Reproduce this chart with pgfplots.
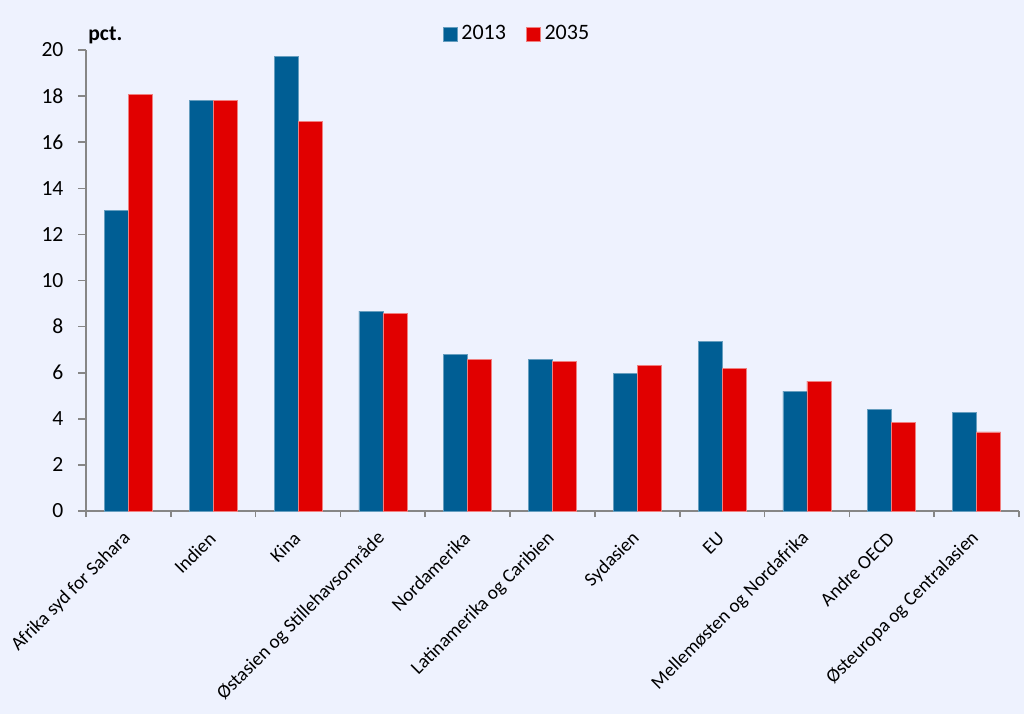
\documentclass[border=0pt]{standalone}
\usepackage{pgfplots}
\pgfplotsset{compat=1.18}
\usepackage{fontspec}
\setmainfont{Carlito}
\definecolor{bg}{RGB}{238,242,254}
\definecolor{cblue}{RGB}{0,94,148}
\definecolor{cred}{RGB}{225,0,0}
\definecolor{axgray}{RGB}{134,134,134}
\begin{document}
\fontsize{10.8}{13}\selectfont
\begin{tikzpicture}
\fill[bg] (0,0) rectangle (512pt,357pt);
\begin{axis}[
 at={(43pt,101.5pt)}, anchor=south west,
 scale only axis, width=466.5pt, height=230.5pt,
 clip=false,
 ybar=0pt, bar width=12pt,
 xmin=-0.5, xmax=10.5, ymin=0, ymax=20, enlargelimits=false,
 axis x line=bottom, axis y line=left,
 axis line style={-, draw=axgray, line width=0.8pt},
 tick align=outside,
 ytick={0,2,...,20},
 xtick={0,...,10},
 minor xtick={-0.5,0.5,...,10.5},
 major tick length=4pt, minor tick length=3pt,
 major x tick style={draw=none},
 minor x tick style={draw=axgray, line width=0.8pt},
 ytick style={draw=axgray, line width=0.8pt},
 /pgf/number format/assume math mode=true,
 yticklabel style={font=\fontsize{10.8}{13}\selectfont, xshift=-3.5pt},
 xticklabels={Afrika syd for Sahara, Indien, Kina, Østasien og Stillehavsområde, Nordamerika, Latinamerika og Caribien, Sydasien, EU, Mellemøsten og Nordafrika, Andre OECD, Østeuropa og Centralasien},
 xticklabel style={font=\fontsize{9.6}{11}\selectfont, rotate=45, anchor=east, inner sep=0pt, xshift=-6pt, yshift=-5.5pt},
 legend style={at={(0.463,1.035)}, anchor=center, draw=none, fill=none, font=\fontsize{11}{13}\selectfont},
 legend columns=2,
 /tikz/every even column/.append style={column sep=8pt},
 legend image code/.code={\fill[#1] (0pt,-3.5pt) rectangle (7pt,3.5pt);},
]
\addplot[fill=cblue, draw=cblue!60!white, line width=0.3pt] coordinates {(0,13.03) (1,17.83) (2,19.71) (3,8.67) (4,6.79) (5,6.59) (6,5.97) (7,7.37) (8,5.20) (9,4.42) (10,4.29)};
\addplot[fill=cred, draw=cred!50!white, line width=0.3pt] coordinates {(0,18.07) (1,17.80) (2,16.89) (3,8.56) (4,6.59) (5,6.50) (6,6.31) (7,6.17) (8,5.64) (9,3.86) (10,3.43)};
\legend{2013,2035}
\node[anchor=base west, font=\bfseries\fontsize{10.8}{13}\selectfont, inner sep=0pt] at (rel axis cs:0,1) [xshift=1pt, yshift=4.6pt] {pct.};
\end{axis}
\pgfresetboundingbox
\path (0,0) rectangle (512pt,357pt);
\end{tikzpicture}
\end{document}
